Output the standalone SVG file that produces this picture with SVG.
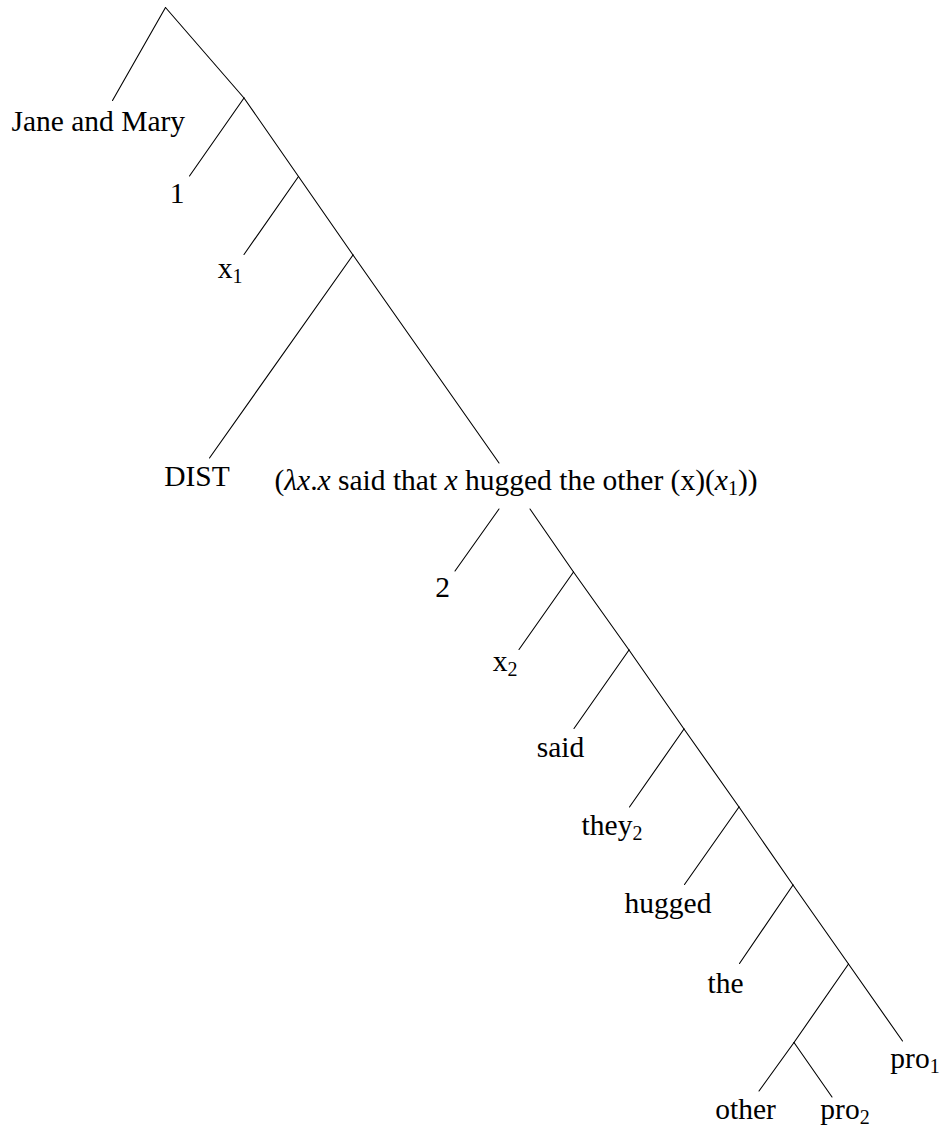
<svg xmlns="http://www.w3.org/2000/svg" width="943" height="1129" viewBox="0 0 943 1129">
<style>
.e{stroke:#000;stroke-width:1.1;fill:none;stroke-linecap:round}
text{font-family:"Liberation Serif","DejaVu Serif",serif;font-size:29.5px;fill:#000;text-anchor:middle}
.i{font-style:italic}
.s{font-size:20px}
</style>
<rect width="943" height="1129" fill="#fff"/>
<g id="connectors">
<line class="e" x1="165.5" y1="7.5" x2="112.5" y2="100.5"/>
<line class="e" x1="165.5" y1="7.5" x2="244" y2="98"/>
<line class="e" x1="244" y1="98" x2="189.5" y2="176"/>
<line class="e" x1="244" y1="98" x2="298.5" y2="176.5"/>
<line class="e" x1="298.5" y1="176.5" x2="244" y2="254.5"/>
<line class="e" x1="298.5" y1="176.5" x2="353" y2="255"/>
<line class="e" x1="353" y1="255" x2="209.5" y2="458"/>
<line class="e" x1="353" y1="255" x2="499" y2="463"/>
<line class="e" x1="499" y1="509" x2="455" y2="571"/>
<line class="e" x1="530" y1="509" x2="573.5" y2="572"/>
<line class="e" x1="573.5" y1="572" x2="519" y2="649.5"/>
<line class="e" x1="573.5" y1="572" x2="629" y2="650"/>
<line class="e" x1="629" y1="650" x2="574" y2="728.5"/>
<line class="e" x1="629" y1="650" x2="684" y2="729"/>
<line class="e" x1="684" y1="729" x2="629.5" y2="807"/>
<line class="e" x1="684" y1="729" x2="739" y2="807"/>
<line class="e" x1="739" y1="807" x2="684.5" y2="884.5"/>
<line class="e" x1="739" y1="807" x2="793" y2="885"/>
<line class="e" x1="793" y1="885" x2="739.5" y2="963.5"/>
<line class="e" x1="793" y1="885" x2="848.5" y2="964"/>
<line class="e" x1="848.5" y1="964" x2="794" y2="1042.5"/>
<line class="e" x1="848.5" y1="964" x2="902.5" y2="1041"/>
<line class="e" x1="794" y1="1042.5" x2="759" y2="1091"/>
<line class="e" x1="794" y1="1042.5" x2="832" y2="1097"/>
</g>
<g id="n-jane"><text x="98.3" y="130.5">Jane and Mary</text></g>
<g id="n-1"><text x="177" y="203">1</text></g>
<g id="n-x1"><text x="230" y="277.5">x<tspan class="s" dy="5">1</tspan></text></g>
<g id="n-dist"><text x="197" y="486">DIST</text></g>
<g id="n-label"><text x="516" y="490">(<tspan class="i">λx</tspan>.<tspan class="i">x</tspan> said that <tspan class="i">x</tspan> hugged the other (x)(<tspan class="i">x</tspan><tspan class="s" dy="5">1</tspan><tspan dy="-5">))</tspan></text></g>
<g id="n-2"><text x="442.5" y="596.5">2</text></g>
<g id="n-x2"><text x="505" y="671">x<tspan class="s" dy="5">2</tspan></text></g>
<g id="n-said"><text x="560.5" y="756.5">said</text></g>
<g id="n-they2"><text x="612" y="835">they<tspan class="s" dy="5">2</tspan></text></g>
<g id="n-hugged"><text x="668" y="913">hugged</text></g>
<g id="n-the"><text x="725.5" y="992.5">the</text></g>
<g id="n-pro1"><text x="915" y="1068">pro<tspan class="s" dy="5">1</tspan></text></g>
<g id="n-other"><text x="745.5" y="1119">other</text></g>
<g id="n-pro2"><text x="845" y="1119">pro<tspan class="s" dy="5">2</tspan></text></g>
</svg>
